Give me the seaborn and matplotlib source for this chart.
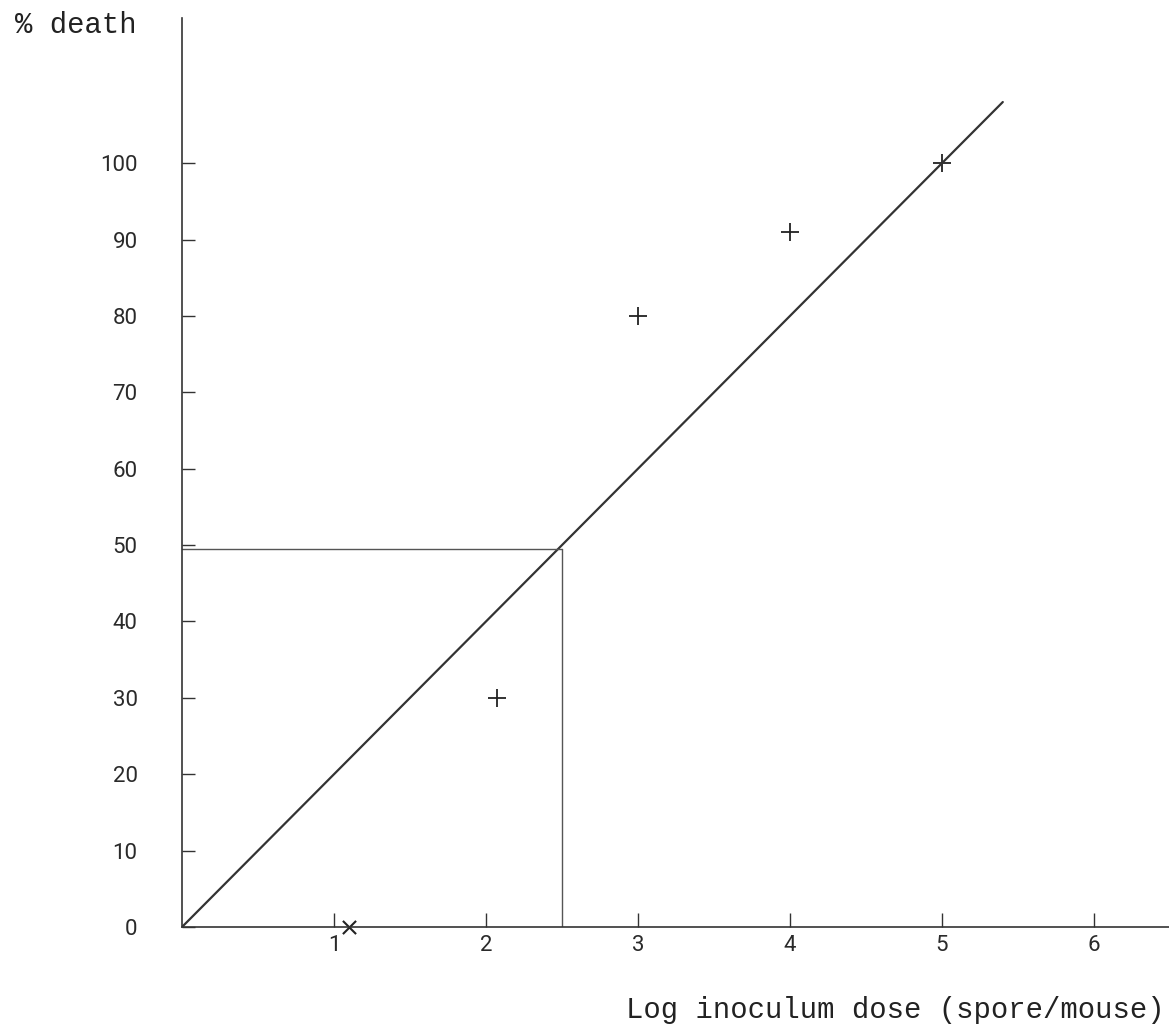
import matplotlib
matplotlib.use("Agg")
import matplotlib.pyplot as plt
import seaborn as sns
import pandas as pd

# Data
dose_points = [2.07, 3.0, 4.0, 5.0]
death_points = [30, 80, 91, 100]
zero_dose = [1.1]
zero_death = [0]
fit_x = [0.0, 5.4]
fit_y = [0.0, 108.0]
ld50_x = 2.5
ld50_y = 49.5
x_ticks = [1, 2, 3, 4, 5, 6]
y_ticks = [0, 10, 20, 30, 40, 50, 60, 70, 80, 90, 100]

sns.set_theme(style="white")
plt.rcParams['font.family'] = ['Roboto', 'DejaVu Sans']

fig = plt.figure(figsize=(11.69, 10.28), dpi=100)
ax = fig.add_axes([182/1169, 1-927/1028, 988/1169, 909/1028])

# fit line
sns.lineplot(x=fit_x, y=fit_y, ax=ax, color="#333333", linewidth=1.6,
             estimator=None, sort=False)
# LD50 guide lines
sns.lineplot(x=[0, ld50_x], y=[ld50_y, ld50_y], ax=ax, color="#555555", linewidth=1.0,
             estimator=None, sort=False)
sns.lineplot(x=[ld50_x, ld50_x], y=[0, ld50_y], ax=ax, color="#555555", linewidth=1.0,
             estimator=None, sort=False)
# data points
df = pd.DataFrame({"dose": dose_points, "death": death_points})
sns.scatterplot(data=df, x="dose", y="death", ax=ax, marker="+", s=160,
                color="#222222", linewidth=1.3)
sns.scatterplot(x=zero_dose, y=zero_death, ax=ax, marker="x", s=90,
                color="#222222", linewidth=1.5, clip_on=False)

ax.set_xlim(0, 6.5)
ax.set_ylim(0, 119)
ax.set_xticks(x_ticks)
ax.set_yticks(y_ticks)
ax.set_xticklabels([str(t) for t in x_ticks])
ax.set_yticklabels([str(t) for t in y_ticks])
ax.set_xlabel("")
ax.set_ylabel("")

for s in ["top", "right"]:
    ax.spines[s].set_visible(False)
for s in ["left", "bottom"]:
    ax.spines[s].set_color("#333333")
    ax.spines[s].set_linewidth(1.2)

ax.tick_params(axis="x", direction="in", length=10, width=1.0, colors="#333333",
               labelsize=16, pad=6, bottom=True)
ax.tick_params(axis="y", direction="in", length=9, width=1.0, colors="#333333",
               labelsize=16, pad=32, left=True)
for lbl in ax.get_xticklabels() + ax.get_yticklabels():
    lbl.set_color("#2a2a2a")
    lbl.set_fontweight("normal")

fig.text(15/1169, 1-25/1028, "% death", family="Liberation Mono", fontsize=20.8,
         color="#222222", ha="left", va="center")
fig.text(1165/1169, 1-1010/1028, "Log inoculum dose (spore/mouse)", family="Liberation Mono",
         fontsize=20.8, color="#222222", ha="right", va="center")

fig.savefig("out.png", dpi=100, facecolor="white")
